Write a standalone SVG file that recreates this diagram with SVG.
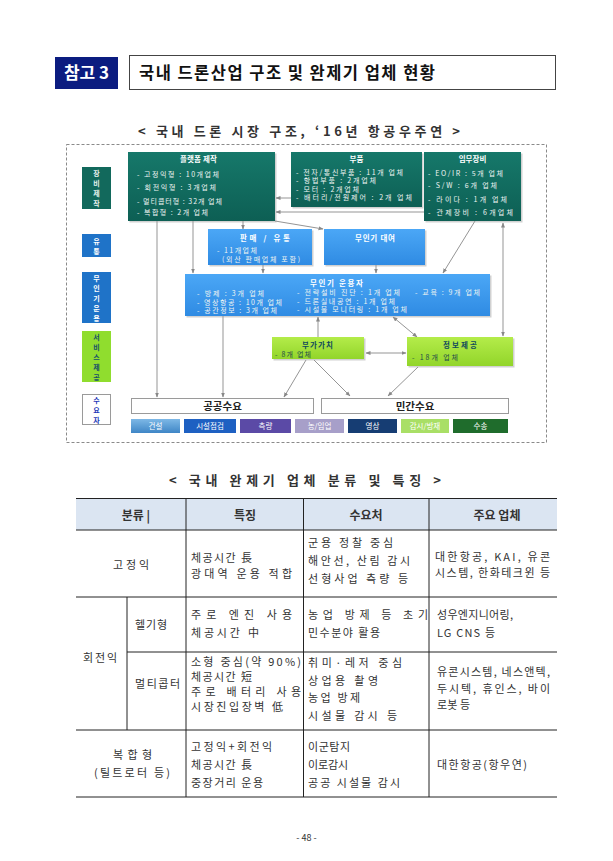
<svg xmlns="http://www.w3.org/2000/svg" width="613" height="861" viewBox="0 0 613 861">
<defs>
<linearGradient id="gTeal" x1="0" y1="0" x2="0" y2="1"><stop offset="0" stop-color="#16786a"/><stop offset="1" stop-color="#0d5f54"/></linearGradient>
<linearGradient id="gBlue" x1="0" y1="0" x2="0" y2="1"><stop offset="0" stop-color="#4ba7f6"/><stop offset="1" stop-color="#2f8be3"/></linearGradient>
<linearGradient id="gLime" x1="0" y1="0" x2="0" y2="1"><stop offset="0" stop-color="#b4ec4a"/><stop offset="1" stop-color="#92d52a"/></linearGradient>
<linearGradient id="gSteel" x1="0" y1="0" x2="0" y2="1"><stop offset="0" stop-color="#7db8e6"/><stop offset="1" stop-color="#3f86c6"/></linearGradient>
<marker id="ah" viewBox="0 0 10 10" refX="9" refY="5" markerWidth="5" markerHeight="5" orient="auto-start-reverse"><path d="M0,1 L10,5 L0,9 z" fill="#888"/></marker>
<style>
text{font-family:"Noto Sans CJK KR","Liberation Sans",sans-serif;}
.teal{fill:url(#gTeal);}
.blue{fill:url(#gBlue);}
.lime{fill:url(#gLime);}
.shd{fill:#9a9a9a;opacity:.45;}
.bt{font-size:7.5px;font-weight:bold;fill:#ffffff;text-anchor:middle;}
.bl{font-size:7px;fill:#eef4f2;}
.gt{font-size:7.5px;font-weight:bold;fill:#104a5c;text-anchor:middle;}
.gl{font-size:7px;fill:#1d4a4a;}
.lab{font-size:7px;font-weight:bold;text-anchor:middle;}
.conn line{stroke:#959595;stroke-width:1;fill:none;}
.bar{font-size:7.5px;fill:#ffffff;text-anchor:middle;}
.dm{font-size:10.5px;font-weight:bold;fill:#222;text-anchor:middle;}
.tl{stroke:#222;stroke-width:1;}
.tt{font-size:11px;fill:#333;}
.th{font-size:12px;font-weight:bold;fill:#333;text-anchor:middle;}
</style>
</defs>
<rect width="613" height="861" fill="#ffffff"/>

<!-- Header -->
<g id="header">
<rect x="55" y="57" width="63" height="32" fill="#0b1c80"/>
<text x="86.5" y="79" font-size="17" font-weight="bold" fill="#ffffff" text-anchor="middle">참고 3</text>
<rect x="129.5" y="55.5" width="426" height="34" fill="#ffffff" stroke="#444" stroke-width="1"/>
<text x="139" y="79" font-size="16.5" font-weight="bold" fill="#111" textLength="296" lengthAdjust="spacing">국내 드론산업 구조 및 완제기 업체 현황</text>
</g>

<text x="138" y="136" font-size="13" font-weight="bold" fill="#333" textLength="322" lengthAdjust="spacing">&lt; 국내 드론 시장 구조, ‘16년 항공우주연 &gt;</text>

<!-- diagram frame -->
<rect x="66.5" y="144.5" width="480" height="298" fill="none" stroke="#8a8a8a" stroke-width="1" stroke-dasharray="3,2"/>

<!-- left labels -->
<g id="lab-equip">
<rect x="82" y="167" width="29" height="42" fill="#12695c"/>
<text class="lab" fill="#e8f2ee" x="96.5" y="176">장</text>
<text class="lab" fill="#e8f2ee" x="96.5" y="186">비</text>
<text class="lab" fill="#e8f2ee" x="96.5" y="196">제</text>
<text class="lab" fill="#e8f2ee" x="96.5" y="206">작</text>
</g>
<g id="lab-dist">
<rect x="82" y="234" width="29" height="23" fill="#1f73c8"/>
<text class="lab" fill="#ffffff" x="96.5" y="244">유</text>
<text class="lab" fill="#ffffff" x="96.5" y="254">통</text>
</g>
<g id="lab-op">
<rect x="82" y="272" width="29" height="51" fill="#1f73c8"/>
<text class="lab" fill="#ffffff" x="96.5" y="281">무</text>
<text class="lab" fill="#ffffff" x="96.5" y="291">인</text>
<text class="lab" fill="#ffffff" x="96.5" y="301">기</text>
<text class="lab" fill="#ffffff" x="96.5" y="311">운</text>
<text class="lab" fill="#ffffff" x="96.5" y="321">용</text>
</g>
<g id="lab-svc">
<rect x="82" y="331" width="29" height="51" fill="#90dd2e"/>
<text class="lab" fill="#17506a" x="96.5" y="340">서</text>
<text class="lab" fill="#17506a" x="96.5" y="350">비</text>
<text class="lab" fill="#17506a" x="96.5" y="360">스</text>
<text class="lab" fill="#17506a" x="96.5" y="370">제</text>
<text class="lab" fill="#17506a" x="96.5" y="380">공</text>
</g>
<g id="lab-demand">
<rect x="82.5" y="394.5" width="28" height="30" fill="#ffffff" stroke="#9a9a9a" stroke-width="1"/>
<text class="lab" fill="#2438b8" x="96.5" y="403">수</text>
<text class="lab" fill="#2438b8" x="96.5" y="413">요</text>
<text class="lab" fill="#2438b8" x="96.5" y="423">자</text>
</g>

<!-- connectors -->
<g id="connectors" class="conn">
<line x1="243" y1="221" x2="243" y2="229" marker-end="url(#ah)"/>
<line x1="275" y1="221" x2="323" y2="229" marker-end="url(#ah)"/>
<line x1="291" y1="198" x2="276" y2="198" marker-end="url(#ah)"/>
<line x1="424" y1="212" x2="276" y2="212" marker-end="url(#ah)"/>
<line x1="157" y1="221" x2="157" y2="397" marker-end="url(#ah)"/>
<line x1="193" y1="221" x2="193" y2="273" marker-end="url(#ah)"/>
<line x1="263" y1="265" x2="263" y2="273" marker-end="url(#ah)"/>
<line x1="376" y1="265" x2="376" y2="273" marker-end="url(#ah)"/>
<line x1="475" y1="221" x2="443" y2="273" marker-end="url(#ah)"/>
<line x1="503" y1="223" x2="503" y2="336" marker-start="url(#ah)" marker-end="url(#ah)"/>
<line x1="223" y1="316" x2="223" y2="397" marker-end="url(#ah)"/>
<line x1="318" y1="337" x2="318" y2="317" marker-end="url(#ah)"/>
<line x1="393" y1="317" x2="417" y2="337" marker-start="url(#ah)" marker-end="url(#ah)"/>
<line x1="366" y1="353" x2="406" y2="353" marker-start="url(#ah)" marker-end="url(#ah)"/>
<line x1="306" y1="360" x2="284" y2="397" marker-end="url(#ah)"/>
<line x1="314" y1="360" x2="350" y2="396" marker-end="url(#ah)"/>
<line x1="418" y1="367" x2="388" y2="396" marker-end="url(#ah)"/>
</g>

<!-- Equipment boxes -->
<g id="platform">
<rect x="129.5" y="153.5" width="147" height="69" class="shd"/>
<rect x="128" y="152" width="147" height="69" class="teal"/>
<text class="bt" x="198.5" y="162" textLength="37" lengthAdjust="spacing">플랫폼 제작</text>
<text class="bl" x="137" y="176.5" textLength="82" lengthAdjust="spacing">- 고정익형 : 10개업체</text>
<text class="bl" x="137" y="189.5" textLength="79" lengthAdjust="spacing">- 회전익형 : 3개업체</text>
<text class="bl" x="137" y="203.5" textLength="85" lengthAdjust="spacing">- 멀티콥터형 : 32개 업체</text>
<text class="bl" x="137" y="215" textLength="71" lengthAdjust="spacing">- 복합형 : 2개 업체</text>
</g>
<g id="parts">
<rect x="292.5" y="153.5" width="131" height="55" class="shd"/>
<rect x="291" y="152" width="131" height="55" class="teal"/>
<text class="bt" x="356.5" y="162">부품</text>
<text class="bl" x="296" y="174.5" textLength="107" lengthAdjust="spacing">- 전자/통신부품 : 11개 업체</text>
<text class="bl" x="296" y="183" textLength="80" lengthAdjust="spacing">- 항법부품 : 2개업체</text>
<text class="bl" x="296" y="191.5" textLength="63" lengthAdjust="spacing">- 모터 : 2개업체</text>
<text class="bl" x="296" y="200" textLength="116" lengthAdjust="spacing">- 배터리/전원제어 : 2개 업체</text>
</g>
<g id="mission">
<rect x="425.5" y="153.5" width="97" height="69" class="shd"/>
<rect x="424" y="152" width="97" height="69" class="teal"/>
<text class="bt" x="472.5" y="162">임무장비</text>
<text class="bl" x="428" y="176" textLength="75" lengthAdjust="spacing">- EO/IR : 5개 업체</text>
<text class="bl" x="428" y="188" textLength="69" lengthAdjust="spacing">- S/W : 6개 업체</text>
<text class="bl" x="428" y="202" textLength="79" lengthAdjust="spacing">- 라이다 : 1개 업체</text>
<text class="bl" x="428" y="215" textLength="85" lengthAdjust="spacing">- 관제장비 : 6개업체</text>
</g>

<!-- Distribution -->
<g id="sales">
<rect x="209.5" y="230.5" width="104" height="36" class="shd"/>
<rect x="208" y="229" width="104" height="36" class="blue"/>
<text class="bt" x="265" y="240.5" textLength="50" lengthAdjust="spacing">판매 / 유통</text>
<text class="bl" x="217" y="253" textLength="40" lengthAdjust="spacing">- 11개업체</text>
<text class="bl" x="222" y="261.5" textLength="78" lengthAdjust="spacing">(외산 판매업체 포함)</text>
</g>
<g id="rental">
<rect x="325.5" y="230.5" width="101" height="36" class="shd"/>
<rect x="324" y="229" width="101" height="36" class="blue"/>
<text class="bt" x="375" y="240.5" textLength="40" lengthAdjust="spacing">무인기 대여</text>
</g>

<!-- Operators -->
<g id="operator">
<rect x="186.5" y="275.5" width="305" height="42" class="shd"/>
<rect x="185" y="274" width="305" height="42" class="blue"/>
<text x="310" y="286" font-size="7.5" font-weight="bold" fill="#ffffff" textLength="53" lengthAdjust="spacing">무인기 운용자</text>
<text class="bl" x="197" y="296" textLength="67" lengthAdjust="spacing">- 방제 : 3개 업체</text>
<text class="bl" x="197" y="304.5" textLength="85" lengthAdjust="spacing">- 영상항공 : 10개 업체</text>
<text class="bl" x="197" y="313" textLength="80" lengthAdjust="spacing">- 공간정보 : 3개 업체</text>
<text class="bl" x="297" y="295" textLength="103" lengthAdjust="spacing">- 전략설비 진단 : 1개 업체</text>
<text class="bl" x="297" y="303.5" textLength="98" lengthAdjust="spacing">- 드론실내공연 : 1개 업체</text>
<text class="bl" x="297" y="312" textLength="110" lengthAdjust="spacing">- 시설물 모니터링 : 1개 업체</text>
<text class="bl" x="415" y="295" textLength="65" lengthAdjust="spacing">- 교육 : 9개 업체</text>
</g>

<!-- Services -->
<g id="valueadd">
<rect x="273.5" y="338.5" width="92" height="22" class="shd"/>
<rect x="272" y="337" width="92" height="22" class="lime"/>
<text class="gt" x="317.5" y="347.5" textLength="31" lengthAdjust="spacing">부가가치</text>
<text class="gl" x="275" y="356.5" textLength="36" lengthAdjust="spacing">- 8개 업체</text>
</g>
<g id="info">
<rect x="408.5" y="338.5" width="106" height="29" class="shd"/>
<rect x="407" y="337" width="106" height="29" class="lime"/>
<text class="gt" x="460" y="347.5" textLength="34" lengthAdjust="spacing">정보제공</text>
<text class="gl" x="412" y="359.5" textLength="46" lengthAdjust="spacing">- 18개 업체</text>
</g>

<!-- Demand -->
<g id="public">
<rect x="131.5" y="398.5" width="182" height="15" fill="#ffffff" stroke="#9a9a9a" stroke-width="1"/>
<text class="dm" x="222.5" y="410">공공수요</text>
</g>
<g id="private">
<rect x="321.5" y="398.5" width="187" height="15" fill="#ffffff" stroke="#9a9a9a" stroke-width="1"/>
<text class="dm" x="415" y="410">민간수요</text>
</g>

<!-- Sector bars -->
<g id="sectors">
<rect x="131" y="419" width="49" height="14" fill="url(#gSteel)"/>
<text class="bar" x="155.5" y="429">건설</text>
<rect x="184" y="419" width="52" height="14" fill="#1e60c2"/>
<text class="bar" x="210" y="429">시설점검</text>
<rect x="240" y="419" width="51" height="14" fill="#5b4aa6"/>
<text class="bar" x="265.5" y="429">측량</text>
<rect x="295" y="419" width="49" height="14" fill="#a79fc9"/>
<text class="bar" x="319.5" y="429">농/임업</text>
<rect x="348" y="419" width="49" height="14" fill="#163d73"/>
<text class="bar" x="372.5" y="429">영상</text>
<rect x="401" y="419" width="48" height="14" fill="#a9df66"/>
<text class="bar" x="425" y="429">감시/방재</text>
<rect x="453" y="419" width="55" height="14" fill="#1f6c2c"/>
<text class="bar" x="480.5" y="429">수송</text>
</g>

<!-- Table title -->
<text x="169" y="485" font-size="13" font-weight="bold" fill="#333" textLength="272" lengthAdjust="spacing">&lt; 국내 완제기 업체 분류 및 특징 &gt;</text>

<!-- Table -->
<g id="table">
<rect x="76" y="498" width="481" height="32" fill="#dbe5f2"/>
<line class="tl" x1="76" y1="498.5" x2="557" y2="498.5" stroke-width="1.6"/>
<line class="tl" x1="76" y1="530" x2="557" y2="530"/>
<line class="tl" x1="76" y1="597" x2="557" y2="597"/>
<line class="tl" x1="127" y1="652" x2="557" y2="652"/>
<line class="tl" x1="76" y1="730" x2="557" y2="730"/>
<line class="tl" x1="76" y1="797" x2="557" y2="797" stroke-width="1.6"/>
<line class="tl" x1="186" y1="498" x2="186" y2="797"/>
<line class="tl" x1="303.5" y1="498" x2="303.5" y2="797"/>
<line class="tl" x1="429" y1="498" x2="429" y2="797"/>
<line class="tl" x1="127" y1="597" x2="127" y2="730"/>

<text class="th" x="136" y="520">분류 |</text>
<text class="th" x="245" y="520">특징</text>
<text class="th" x="366" y="520">수요처</text>
<text class="th" x="497" y="520">주요 업체</text>

<text class="tt" x="113" y="569" textLength="36" lengthAdjust="spacing">고정익</text>
<text class="tt" x="191" y="562" textLength="61" lengthAdjust="spacing">체공시간 長</text>
<text class="tt" x="191" y="577.5" textLength="101" lengthAdjust="spacing">광대역 운용 적합</text>
<text class="tt" x="308" y="547" textLength="85" lengthAdjust="spacing">군용 정찰 중심</text>
<text class="tt" x="308" y="565" textLength="102" lengthAdjust="spacing">해안선, 산림 감시</text>
<text class="tt" x="308" y="582.5" textLength="100" lengthAdjust="spacing">선형사업 측량 등</text>
<text class="tt" x="435" y="561" textLength="115" lengthAdjust="spacing">대한항공, KAI, 유콘</text>
<text class="tt" x="435" y="576.5" textLength="115" lengthAdjust="spacing">시스템, 한화테크윈 등</text>

<text class="tt" x="135" y="629" textLength="32" lengthAdjust="spacing">헬기형</text>
<text class="tt" x="191" y="619" textLength="101" lengthAdjust="spacing">주로 엔진 사용</text>
<text class="tt" x="191" y="637" textLength="68" lengthAdjust="spacing">체공시간 中</text>
<text class="tt" x="308" y="619" textLength="120" lengthAdjust="spacing">농업 방제 등 초기</text>
<text class="tt" x="308" y="637" textLength="72" lengthAdjust="spacing">민수분야 활용</text>
<text class="tt" x="437" y="619" textLength="76" lengthAdjust="spacing">성우엔지니어링,</text>
<text class="tt" x="437" y="637" textLength="58" lengthAdjust="spacing">LG CNS 등</text>

<text class="tt" x="83" y="662" textLength="34" lengthAdjust="spacing">회전익</text>
<text class="tt" x="135" y="687.5" textLength="45" lengthAdjust="spacing">멀티콥터</text>
<text class="tt" x="191" y="665.5" textLength="110" lengthAdjust="spacing">소형 중심(약 90%)</text>
<text class="tt" x="191" y="680.5" textLength="61" lengthAdjust="spacing">체공시간 短</text>
<text class="tt" x="191" y="695.5" textLength="110" lengthAdjust="spacing">주로 배터리 사용</text>
<text class="tt" x="191" y="710.5" textLength="92" lengthAdjust="spacing">시장진입장벽 低</text>
<text class="tt" x="308" y="667" textLength="94" lengthAdjust="spacing">취미·레저 중심</text>
<text class="tt" x="308" y="684.5" textLength="70" lengthAdjust="spacing">상업용 촬영</text>
<text class="tt" x="308" y="702" textLength="52" lengthAdjust="spacing">농업 방제</text>
<text class="tt" x="308" y="719.5" textLength="89" lengthAdjust="spacing">시설물 감시 등</text>
<text class="tt" x="437" y="676" textLength="113" lengthAdjust="spacing">유콘시스템, 네스앤텍,</text>
<text class="tt" x="437" y="692.5" textLength="113" lengthAdjust="spacing">두시텍, 휴인스, 바이</text>
<text class="tt" x="437" y="709" textLength="33" lengthAdjust="spacing">로봇 등</text>

<text class="tt" x="113" y="759" textLength="39" lengthAdjust="spacing">복합형</text>
<text class="tt" x="94" y="777" textLength="76" lengthAdjust="spacing">(틸트로터 등)</text>
<text class="tt" x="191" y="751" textLength="81" lengthAdjust="spacing">고정익+회전익</text>
<text class="tt" x="191" y="769" textLength="61" lengthAdjust="spacing">체공시간 長</text>
<text class="tt" x="191" y="787" textLength="72" lengthAdjust="spacing">중장거리 운용</text>
<text class="tt" x="308" y="751" textLength="42" lengthAdjust="spacing">이군탐지</text>
<text class="tt" x="308" y="769" textLength="40" lengthAdjust="spacing">이로감시</text>
<text class="tt" x="308" y="787" textLength="92" lengthAdjust="spacing">공공 시설물 감시</text>
<text class="tt" x="437" y="769" textLength="90" lengthAdjust="spacing">대한항공(항우연)</text>
</g>

<text x="306.5" y="841" font-size="9" fill="#333" text-anchor="middle">- 48 -</text>
</svg>
